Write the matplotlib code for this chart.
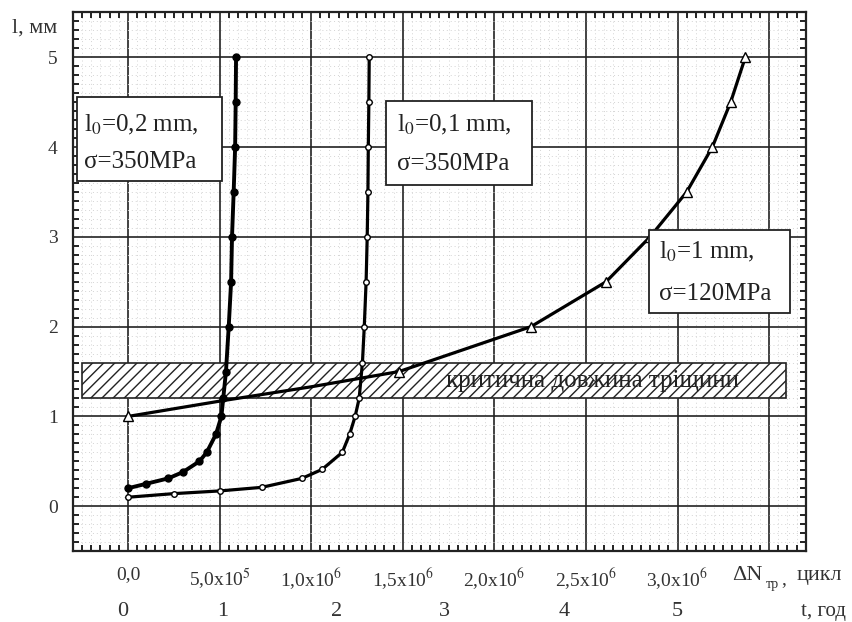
import matplotlib
matplotlib.use("Agg")
import matplotlib.pyplot as plt
from matplotlib.patches import Rectangle
from matplotlib.transforms import blended_transform_factory
from matplotlib.ticker import MultipleLocator

plt.rcParams['font.family'] = ['Liberation Serif', 'DejaVu Serif']
plt.rcParams['mathtext.fontset'] = 'stix'
plt.rcParams['hatch.linewidth'] = 1.0

# l0 = 0.2 mm, sigma = 350 MPa (filled circles)
a_x = [0, 0.10e6, 0.22e6, 0.30e6, 0.39e6, 0.43e6, 0.48e6, 0.51e6, 0.52e6,
       0.535e6, 0.55e6, 0.563e6, 0.568e6, 0.577e6, 0.585e6, 0.588e6, 0.59e6]
a_y = [0.2, 0.25, 0.31, 0.38, 0.5, 0.6, 0.8, 1.0, 1.2,
       1.5, 2.0, 2.5, 3.0, 3.5, 4.0, 4.5, 5.0]

# l0 = 0.1 mm, sigma = 350 MPa (open circles)
b_x = [0, 0.25e6, 0.5e6, 0.73e6, 0.95e6, 1.06e6, 1.17e6, 1.21e6, 1.24e6,
       1.262e6, 1.28e6, 1.29e6, 1.30e6, 1.306e6, 1.31e6, 1.312e6, 1.315e6, 1.317e6]
b_y = [0.1, 0.14, 0.17, 0.21, 0.31, 0.41, 0.6, 0.8, 1.0,
       1.2, 1.6, 2.0, 2.5, 3.0, 3.5, 4.0, 4.5, 5.0]

# l0 = 1 mm, sigma = 120 MPa (open triangles)
c_x = [0, 0.5e6, 1.0e6, 1.48e6, 2.2e6, 2.61e6, 2.85e6, 3.05e6, 3.19e6, 3.29e6, 3.37e6]
c_y = [1.0, 1.17, 1.33, 1.5, 2.0, 2.5, 3.0, 3.5, 4.0, 4.5, 5.0]

x_ticks = [0, 0.5e6, 1.0e6, 1.5e6, 2.0e6, 2.5e6, 3.0e6, 3.5e6]
x_labels = ["0,0", "5,0x10$^5$", "1,0x10$^6$", "1,5x10$^6$", "2,0x10$^6$",
            "2,5x10$^6$", "3,0x10$^6$", ""]
y_ticks = [0, 1, 2, 3, 4, 5]

year_labels = ["0", "1", "2", "3", "4", "5"]
year_pos = [-0.027e6, 0.519e6, 1.137e6, 1.727e6, 2.383e6, 3.0e6]

band_lo, band_hi = 1.2, 1.6

fig = plt.figure(figsize=(8.53, 6.22), dpi=100)
ax = fig.add_axes([0.0856, 0.114, 0.859, 0.866])
ax.set_xlim(-0.3e6, 3.7e6)
ax.set_ylim(-0.5, 5.5)

ax.set_xticks(x_ticks)
ax.set_xticklabels(x_labels, fontsize=14, color='#333333')
ax.set_yticks(y_ticks)
ax.set_yticklabels([str(v) for v in y_ticks], fontsize=14, color='#333333')
ax.xaxis.set_minor_locator(MultipleLocator(0.5e5))
ax.yaxis.set_minor_locator(MultipleLocator(0.1))
ax.tick_params(which='major', length=0, pad=11)
ax.tick_params(which='minor', direction='in', top=True, right=True,
               bottom=True, left=True, length=4, width=1.4, color='#222222')

ax.grid(which='minor', color='#d4d4d4', linestyle=(0, (1, 3)), linewidth=0.7, zorder=0)
ax.grid(which='major', color='#222222', linestyle='-', linewidth=1.2, zorder=1)
ax.set_axisbelow(True)
for s in ax.spines.values():
    s.set_linewidth(1.6)
    s.set_color('#222222')

# critical crack length band
ax.add_patch(Rectangle((-0.25e6, band_lo), 3.84e6, band_hi - band_lo,
                       facecolor='white', edgecolor='#222222', hatch='///',
                       linewidth=1.2, zorder=2))
ax.text(2.535e6, (band_lo + band_hi) / 2, "критична довжина тріщини",
        fontsize=18, ha='center', va='center', color='#222222', zorder=3)

ax.plot(a_x, a_y, color='black', lw=2.8, marker='o', ms=5,
        mfc='black', mec='black', zorder=5)
ax.plot(b_x, b_y, color='black', lw=2.3, marker='o', ms=4,
        mfc='white', mec='black', mew=1.0, zorder=5)
ax.plot(c_x, c_y, color='black', lw=2.3, marker='^', ms=7,
        mfc='white', mec='black', mew=1.0, markevery=[0, 3, 4, 5, 6, 7, 8, 9, 10],
        zorder=5)

# annotation boxes
boxes = [((-0.279e6, 3.62), 0.793e6, 0.935, -0.24e6, 4.25, 3.83, "0,2", "350"),
         ((1.41e6, 3.575), 0.798e6, 0.935, 1.47e6, 4.25, 3.81, "0,1", "350"),
         ((2.842e6, 2.149), 0.77e6, 0.924, 2.9e6, 2.83, 2.36, "1", "120")]
for (xy, w, h, tx, ty1, ty2, l0, sig) in boxes:
    ax.add_patch(Rectangle(xy, w, h, facecolor='white', edgecolor='#222222',
                           linewidth=1.3, zorder=6))
    ax.text(tx, ty1, "l$_0$=" + l0 + " mm,", fontsize=18, ha='left', va='center',
            color='#222222', zorder=7)
    ax.text(tx, ty2, "σ=" + sig + "MPa", fontsize=18, ha='left', va='center',
            color='#222222', zorder=7)

# second row: years
tr = blended_transform_factory(ax.transData, ax.transAxes)
for lab, pos in zip(year_labels, year_pos):
    ax.text(pos, -0.113, lab, transform=tr, fontsize=16, ha='center',
            va='center', color='#333333')

ax.text(0.899, -0.045, "ΔN", transform=ax.transAxes, fontsize=16,
        ha='left', va='center', color='#333333')
ax.text(0.945, -0.062, "тр", transform=ax.transAxes, fontsize=10,
        ha='left', va='center', color='#333333')
ax.text(0.967, -0.052, ",", transform=ax.transAxes, fontsize=14,
        ha='left', va='center', color='#333333')
ax.text(0.988, -0.045, "цикл", transform=ax.transAxes, fontsize=16,
        ha='left', va='center', color='#333333')
ax.text(0.993, -0.113, "t, год", transform=ax.transAxes, fontsize=15,
        ha='left', va='center', color='#333333')

fig.text(12 / 853, 1 - 28 / 622, "l, мм", fontsize=16, ha='left', va='center',
         color='#333333')

fig.savefig("out.png", dpi=100)
